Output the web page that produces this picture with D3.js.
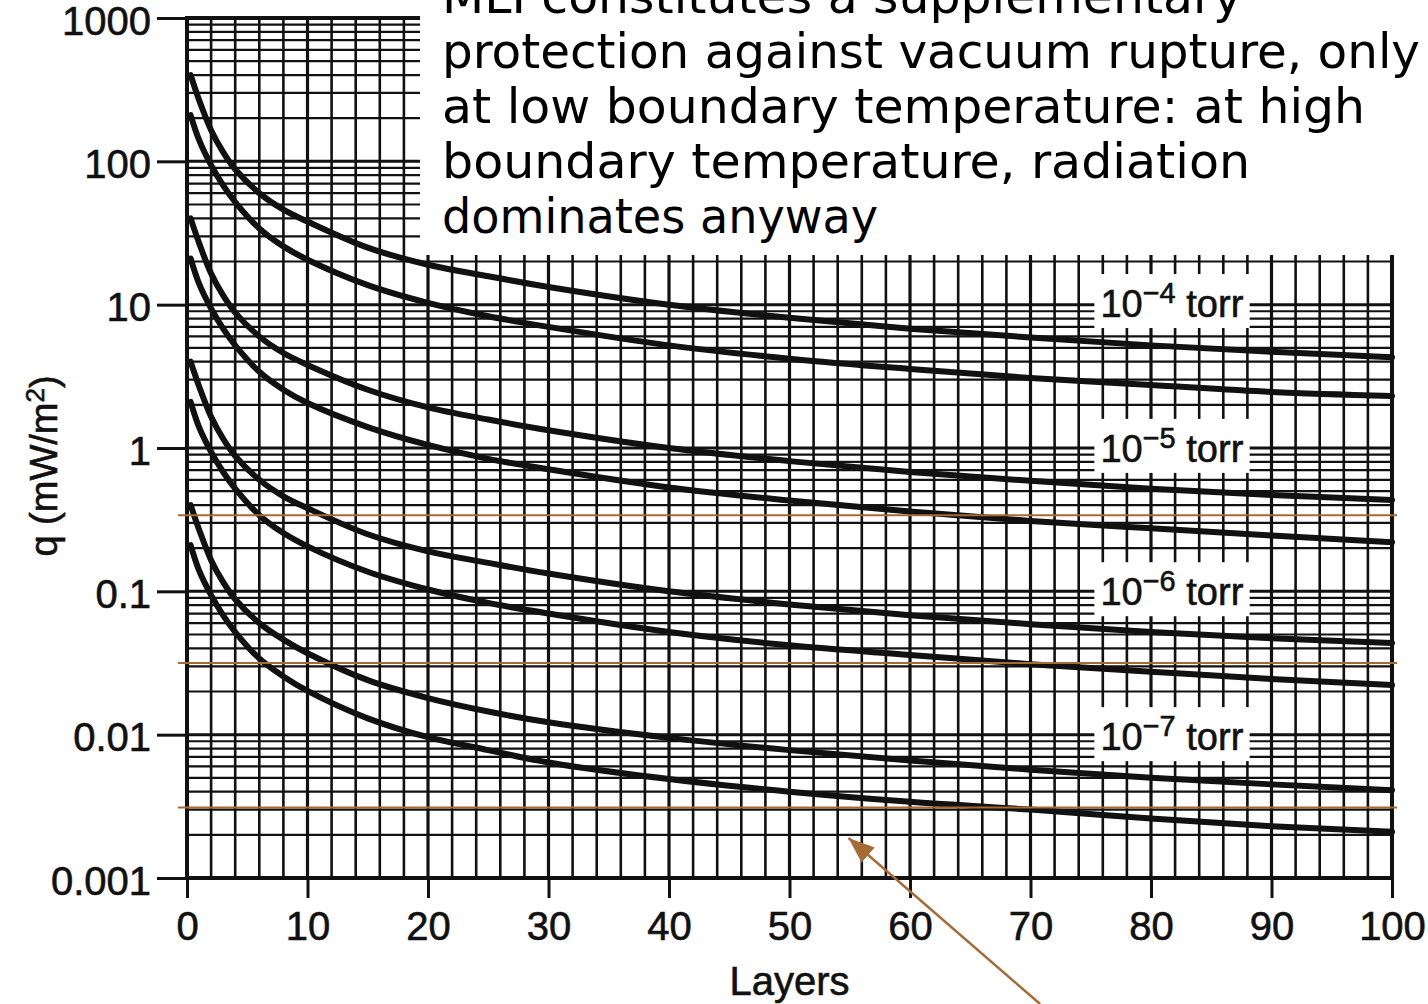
<!DOCTYPE html>
<html>
<head>
<meta charset="utf-8">
<script src="https://cdn.jsdelivr.net/npm/d3@7"></script>
<style>
  body { margin: 0; background: #fff; }
  svg { display: block; }
</style>
</head>
<body>
<svg id="chart"></svg>
<script>
// number of MLI layers where values were read
const layers = [0.3, 1, 2, 3, 4, 6, 8, 10, 15, 20, 25, 30, 40, 50, 60, 70, 80, 90, 100];

// heat flux q (mW/m2), two curves per residual pressure
const q4High = [400, 268, 165, 116, 88, 60, 46, 38, 25, 19, 15.8, 13.3, 10, 8.1, 6.8, 5.9, 5.2, 4.7, 4.3];
const q4Low  = [210, 141, 94, 68, 52, 34, 25.5, 20.6, 13.7, 10.3, 8.3, 7.0, 5.2, 4.2, 3.56, 3.08, 2.75, 2.46, 2.31];
const q5High = [40, 27, 16.5, 11.6, 8.8, 6.0, 4.6, 3.8, 2.55, 1.92, 1.58, 1.33, 1.0, 0.81, 0.68, 0.59, 0.52, 0.47, 0.434];
const q5Low  = [21, 14, 9.4, 6.8, 5.2, 3.4, 2.55, 2.06, 1.4, 1.05, 0.84, 0.71, 0.53, 0.43, 0.36, 0.31, 0.275, 0.245, 0.22];
const q6High = [4.0, 2.7, 1.65, 1.16, 0.88, 0.60, 0.46, 0.38, 0.25, 0.19, 0.158, 0.133, 0.10, 0.081, 0.068, 0.059, 0.052, 0.047, 0.0436];
const q6Low  = [2.1, 1.4, 0.94, 0.68, 0.52, 0.34, 0.255, 0.206, 0.137, 0.103, 0.083, 0.070, 0.052, 0.042, 0.036, 0.031, 0.0275, 0.0245, 0.0222];
const q7High = [0.40, 0.27, 0.165, 0.116, 0.088, 0.060, 0.046, 0.037, 0.024, 0.018, 0.0145, 0.0122, 0.0095, 0.0078, 0.0066, 0.0057, 0.0050, 0.0045, 0.0041];
const q7Low  = [0.21, 0.14, 0.094, 0.068, 0.052, 0.034, 0.0255, 0.0202, 0.013, 0.0096, 0.0078, 0.0064, 0.0049, 0.0040, 0.0034, 0.0030, 0.0026, 0.0023, 0.0021];

const curves = [q4High, q4Low, q5High, q5Low, q6High, q6Low, q7High, q7Low];

// pressure labels
const torrExp = ['\u22124', '\u22125', '\u22126', '\u22127'];
const torrLabelX = 75.8;
const torrLabelY = [8.2, 0.8, 0.08, 0.0078];

// axis ticks
const xTicks = [0, 10, 20, 30, 40, 50, 60, 70, 80, 90, 100];
const yTicks = [0.001, 0.01, 0.1, 1, 10, 100, 1000];
const yTickLabels = ['0.001', '0.01', '0.1', '1', '10', '100', '1000'];

// brown reference lines and the arrow
const refLines = [0.34, 0.0316, 0.0031];
const arrowFrom = [70.8, 0.000132];
const arrowTo = [54.9, 0.0019];

const note = [
  'MLI constitutes a supplementary',
  'protection against vacuum rupture, only',
  'at low boundary temperature: at high',
  'boundary temperature, radiation',
  'dominates anyway'
];
const noteWidths = [800, 978, 923, 808, 436];

const W = 1428, H = 1004;
const margin = { top: 18, right: 36, bottom: 126, left: 187 };

const svg = d3.select('#chart').attr('width', W).attr('height', H);

const x = d3.scaleLinear().domain([0, 100]).range([margin.left, W - margin.right]);
const y = d3.scaleLog().domain([0.001, 1000]).range([H - margin.bottom, margin.top]);

const ink = '#111';
const brown = '#a66b35';
const sans = '"Liberation Sans", Arial, sans-serif';

// grid
const grid = svg.append('g');
grid.selectAll('line.v')
  .data(d3.range(0, 101, 2))
  .join('line')
  .attr('x1', d => x(d)).attr('x2', d => x(d))
  .attr('y1', y(1000)).attr('y2', y(0.001))
  .attr('stroke', ink)
  .attr('stroke-width', d => d % 10 === 0 ? 3.2 : 2.6);

grid.selectAll('line.h')
  .data(y.ticks())
  .join('line')
  .attr('x1', x(0)).attr('x2', x(100))
  .attr('y1', d => y(d)).attr('y2', d => y(d))
  .attr('stroke', ink)
  .attr('stroke-width', d => yTicks.includes(d) ? 3 : 2.2);

// frame
svg.append('rect')
  .attr('x', x(0)).attr('y', y(1000))
  .attr('width', x(100) - x(0)).attr('height', y(0.001) - y(1000))
  .attr('fill', 'none').attr('stroke', ink).attr('stroke-width', 4);

// axes
const yAxis = svg.append('g')
  .attr('transform', `translate(${x(0)},0)`)
  .call(d3.axisLeft(y).tickValues(yTicks).tickSize(30).tickPadding(6)
    .tickFormat((d, i) => yTickLabels[i]));

const xAxis = svg.append('g')
  .attr('transform', `translate(0,${y(0.001)})`)
  .call(d3.axisBottom(x).tickValues(xTicks).tickSize(20).tickPadding(14));

[yAxis, xAxis].forEach(g => {
  g.select('.domain').remove();
  g.selectAll('.tick line').attr('stroke', ink).attr('stroke-width', 3);
  g.selectAll('text')
    .attr('fill', ink)
    .attr('stroke', ink).attr('stroke-width', 0.6)
    .style('font-family', sans)
    .style('font-size', '40px');
});
yAxis.selectAll('.tick text').attr('dy', '0.4em');

svg.append('text')
  .attr('x', x(50)).attr('y', 995)
  .attr('text-anchor', 'middle')
  .style('font-family', sans)
  .style('font-size', '40px')
  .attr('fill', ink).attr('stroke', ink).attr('stroke-width', 0.6)
  .text('Layers');

const yTitle = svg.append('text')
  .attr('transform', 'translate(57,466) rotate(-90)')
  .attr('text-anchor', 'middle')
  .style('font-family', sans)
  .style('font-size', '38px')
  .attr('fill', ink).attr('stroke', ink).attr('stroke-width', 0.6);
yTitle.append('tspan').text('q (mW/m');
yTitle.append('tspan').attr('dy', -13).style('font-size', '26px').text('2');
yTitle.append('tspan').attr('dy', 13).text(')');

// curves
const line = d3.line()
  .x((d, i) => x(layers[i]))
  .y(d => y(d))
  .curve(d3.curveCatmullRom.alpha(0.5));

svg.append('g')
  .selectAll('path')
  .data(curves)
  .join('path')
  .attr('d', line)
  .attr('fill', 'none')
  .attr('stroke', ink)
  .attr('stroke-width', 6)
  .attr('stroke-linecap', 'round');

// pressure labels with white backing
const labels = svg.append('g');
torrExp.forEach((e, i) => {
  const g = labels.append('g');
  const t = g.append('text')
    .attr('x', x(torrLabelX)).attr('y', y(torrLabelY[i]))
    .style('font-family', sans)
    .style('font-size', '38px')
    .attr('fill', ink).attr('stroke', ink).attr('stroke-width', 0.6);
  t.append('tspan').text('10');
  t.append('tspan').attr('dy', -14).style('font-size', '29px').text(e);
  t.append('tspan').attr('dy', 14).text(' torr');
  const b = t.node().getBBox();
  g.insert('rect', 'text')
    .attr('x', b.x - 6).attr('y', b.y - 3)
    .attr('width', b.width + 12).attr('height', b.height + 6)
    .attr('fill', '#fff');
});

// brown reference lines
svg.append('g')
  .selectAll('line')
  .data(refLines)
  .join('line')
  .attr('x1', x(0) - 9).attr('x2', x(100) + 5)
  .attr('y1', d => y(d)).attr('y2', d => y(d))
  .attr('stroke', brown)
  .attr('stroke-width', 2);

// arrow
svg.append('defs').append('marker')
  .attr('id', 'head')
  .attr('viewBox', '0 0 10 10')
  .attr('refX', 10).attr('refY', 5)
  .attr('markerWidth', 26).attr('markerHeight', 20)
  .attr('markerUnits', 'userSpaceOnUse')
  .attr('orient', 'auto')
  .attr('preserveAspectRatio', 'none')
  .append('path')
  .attr('d', 'M0,0 L10,5 L0,10 Z')
  .attr('fill', brown);

svg.append('line')
  .attr('x1', x(arrowFrom[0])).attr('y1', y(arrowFrom[1]))
  .attr('x2', x(arrowTo[0])).attr('y2', y(arrowTo[1]))
  .attr('stroke', brown)
  .attr('stroke-width', 2.5)
  .attr('marker-end', 'url(#head)');

// note box over the top of the plot
const box = svg.append('g');
box.append('rect')
  .attr('x', 420).attr('y', 0)
  .attr('width', W - 420).attr('height', 255)
  .attr('fill', '#fff');
box.selectAll('text')
  .data(note)
  .join('text')
  .attr('x', 442)
  .attr('y', (d, i) => 13 + i * 55)
  .attr('textLength', (d, i) => noteWidths[i])
  .attr('lengthAdjust', 'spacingAndGlyphs')
  .style('font-family', '"DejaVu Sans", sans-serif')
  .style('font-size', '48px')
  .attr('fill', '#000')
  .text(d => d);
</script>
</body>
</html>
